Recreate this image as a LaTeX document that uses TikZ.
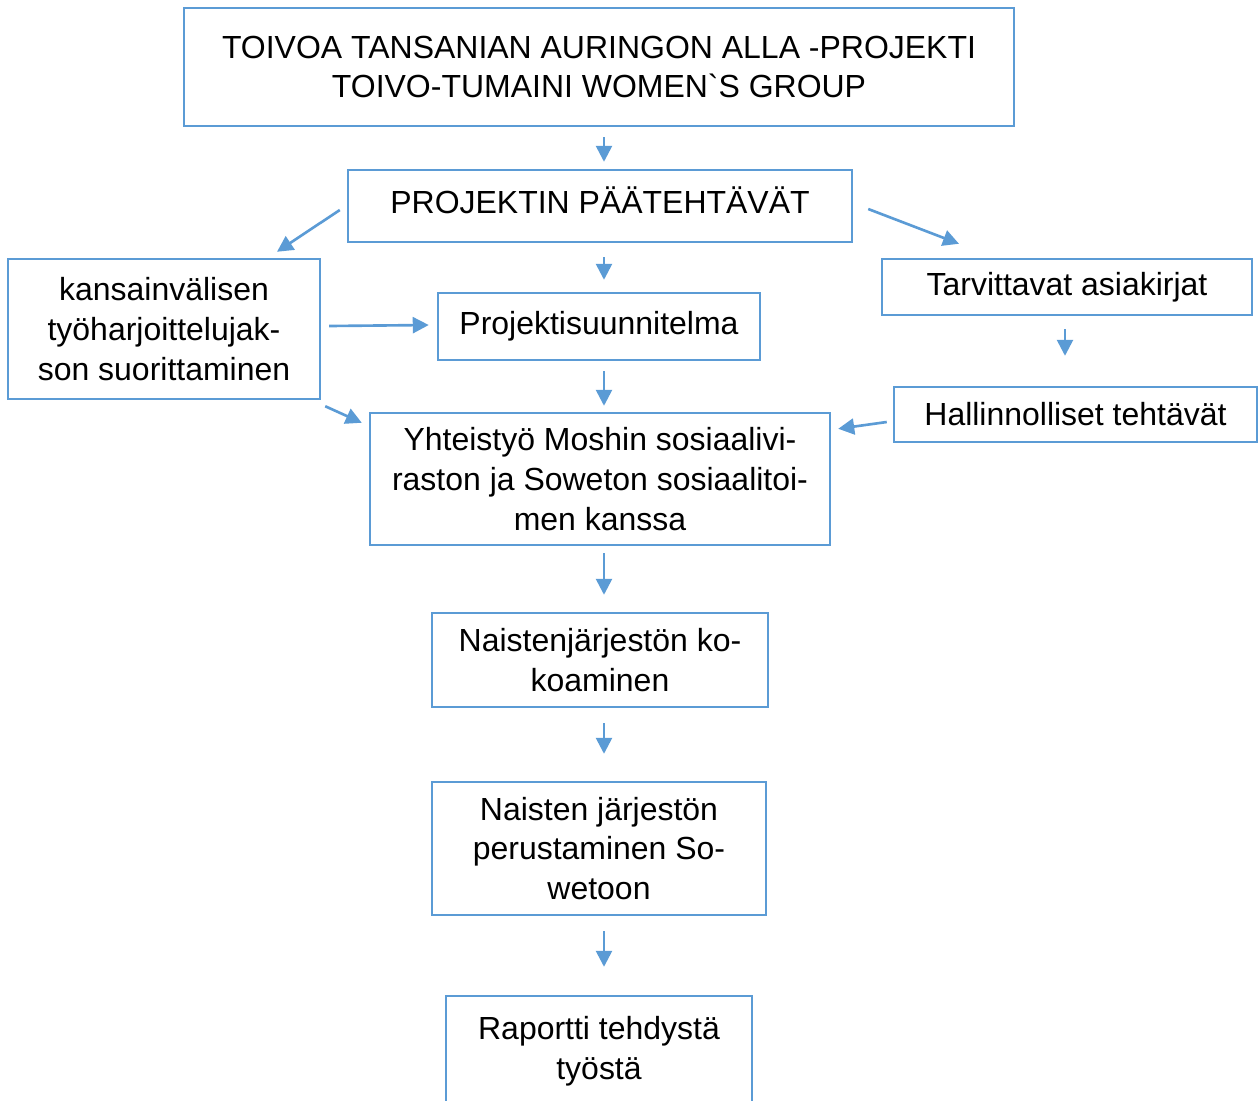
\documentclass[tikz,border=0pt]{standalone}
\usepackage{fontspec}
\newfontfamily\af{Liberation Sans}
\usetikzlibrary{calc,arrows.meta}
\definecolor{boxblue}{HTML}{5B9BD5}
\tikzset{
  box/.style={draw=boxblue, line width=1.4pt, align=center, inner sep=0pt,
    font=\af\fontsize{18.2pt}{22.7pt}\selectfont, text=black},
  arr/.style={draw=boxblue, line width=1.5pt,
    -{Triangle[length=0.32cm,width=0.32cm]}}
}
\begin{document}
\begin{tikzpicture}[x=0.02cm,y=-0.02cm]
\useasboundingbox (0,0) rectangle (1259,1100);
\clip (0,0) rectangle (1259,1100);
\node[box, minimum width=830*0.02cm, minimum height=118*0.02cm] (t) at (599,67)
  {TOIVOA TANSANIAN AURINGON ALLA -PROJEKTI\\TOIVO-TUMAINI WOMEN`S GROUP};
\node[box, minimum width=504*0.02cm, minimum height=72*0.02cm] (p) at (600,206) {};
\node[font=\af\fontsize{18.2pt}{22.7pt}\selectfont] (pl) at (600,200) {PROJEKTIN PÄÄTEHTÄVÄT};
\node[box, minimum width=312*0.02cm, minimum height=140*0.02cm] (k) at (164,329)
  {kansainvälisen\\työharjoittelujak-\\son suorittaminen};
\node[box, minimum width=322*0.02cm, minimum height=67*0.02cm] (pr) at (599,326.5)
  {Projektisuunnitelma};
\node[box, minimum width=370*0.02cm, minimum height=56*0.02cm] (ta) at (1067,287)
  {Tarvittavat asiakirjat};
\node[box, minimum width=363*0.02cm, minimum height=55*0.02cm] (h) at (1075.5,414.5)
  {Hallinnolliset tehtävät};
\node[box, minimum width=460*0.02cm, minimum height=132*0.02cm] (y) at (600,479)
  {Yhteistyö Moshin sosiaalivi-\\raston ja Soweton sosiaalitoi-\\men kanssa};
\node[box, minimum width=336*0.02cm, minimum height=94*0.02cm] (n1) at (600,660)
  {Naistenjärjestön ko-\\koaminen};
\node[box, minimum width=334*0.02cm, minimum height=133*0.02cm] (n2) at (599,848.5)
  {Naisten järjestön\\perustaminen So-\\wetoon};
\node[box, minimum width=306*0.02cm, minimum height=110*0.02cm] (r) at (599,1051)
  {Raportti tehdystä\\työstä};

\coordinate (ax) at (604,0);
\draw[arr, shorten <=0.2cm, shorten >=0.14cm] (t.south -| ax) -- (p.north -| ax);
\draw[arr, shorten <=0.28cm, shorten >=0.24cm] (p.south -| ax) -- (pr.north -| ax);
\draw[arr, shorten <=0.2cm, shorten >=0.12cm] (pr.south -| ax) -- (y.north -| ax);
\draw[arr, shorten <=0.14cm, shorten >=0.34cm] (y.south -| ax) -- (n1.north -| ax);
\draw[arr, shorten <=0.3cm, shorten >=0.54cm] (n1.south -| ax) -- (n2.north -| ax);
\draw[arr, shorten <=0.3cm, shorten >=0.56cm] (n2.south -| ax) -- (r.north -| ax);
\coordinate (bx) at (1065,0);
\draw[arr, shorten <=0.26cm, shorten >=0.6cm] (ta.south -| bx) -- (h.north -| bx);
\draw[arr] ($(k.east)+(8,-3)$) -- ($(pr.west)+(-8,-1.5)$);
\draw[arr] ($(p.west)+(-7,4)$) -- ($(k.north)+(113,-6)$);
\draw[arr] ($(p.east)+(15,3)$) -- ($(ta.north)+(-108,-14)$);
\draw[arr] ($(k.south east)+(4,6)$) -- ($(y.north west)+(-7,11)$);
\draw[arr] ($(h.west)+(-6,7.5)$) -- ($(y.north east)+(7,17)$);
\end{tikzpicture}
\end{document}
